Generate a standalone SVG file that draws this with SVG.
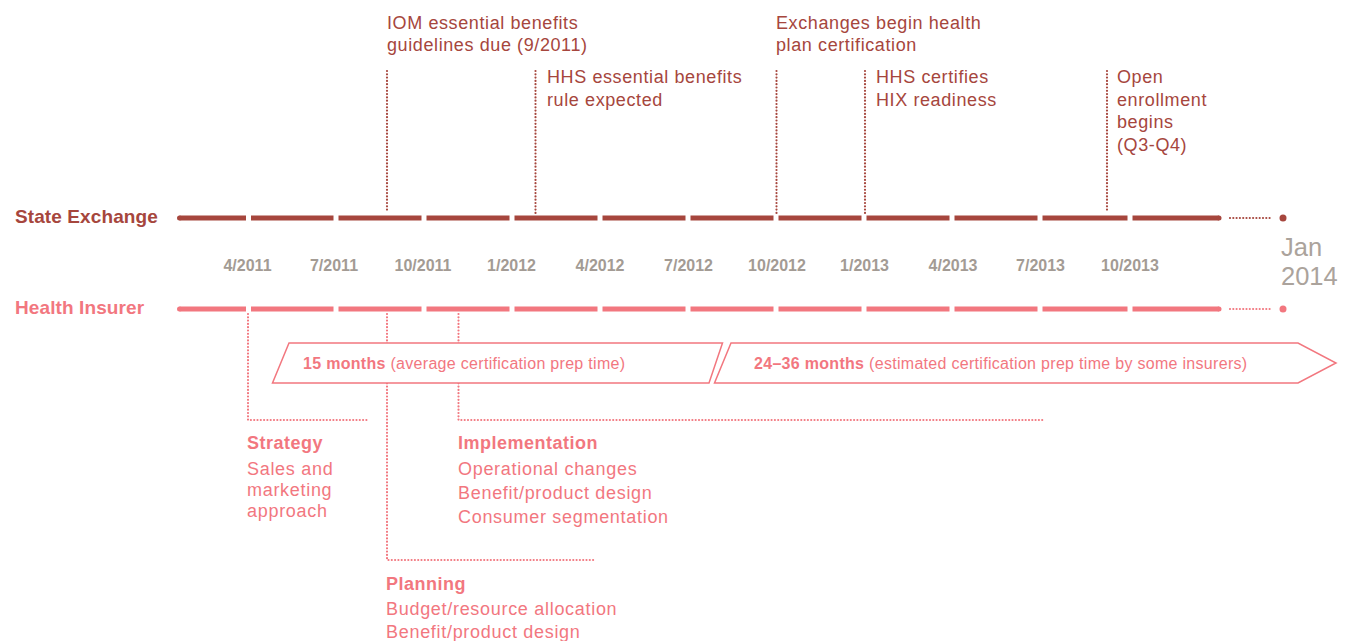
<svg xmlns="http://www.w3.org/2000/svg" width="1350" height="641" viewBox="0 0 1350 641">
<style>
text{font-family:"Liberation Sans",Arial,sans-serif}
.se{fill:#a6463d}
.hi{fill:#f2777f}
.lbl{font-size:18px;letter-spacing:0.6px}
.head{font-size:19px;font-weight:bold;letter-spacing:0.1px}
.date{font-size:16px;font-weight:bold;fill:#a39b94;text-anchor:middle}
.jan{font-size:25.5px;fill:#aba39c}
.bar-se{stroke:#a6463d;stroke-width:5;fill:none}
.bar-hi{stroke:#f2777f;stroke-width:5;fill:none}
.dot-se{stroke:#a6463d;stroke-width:2.2;stroke-dasharray:0 3.3;stroke-linecap:round;fill:none}
.dot-hi{stroke:#f2777f;stroke-width:2.2;stroke-dasharray:0 3.3;stroke-linecap:round;fill:none}
.box{fill:#fff;stroke:#f2777f;stroke-width:1.5}
.bt{font-size:16px;fill:#f2777f;letter-spacing:0.3px}
.sub{font-size:18px;fill:#f2777f;letter-spacing:0.7px}
.subh{font-size:18px;font-weight:bold;fill:#f2777f;letter-spacing:0.5px}
</style>

<g id="connectors">
  <line class="dot-se" x1="387" y1="71" x2="387" y2="210"/>
  <line class="dot-se" x1="535.5" y1="71" x2="535.5" y2="215"/>
  <line class="dot-se" x1="776.5" y1="71" x2="776.5" y2="215"/>
  <line class="dot-se" x1="865" y1="71" x2="865" y2="215"/>
  <line class="dot-se" x1="1107" y1="71" x2="1107" y2="210"/>
  <polyline class="dot-hi" points="248,314 248,420 368,420"/>
  <polyline class="dot-hi" points="387,314 387,560 595,560"/>
  <polyline class="dot-hi" points="458.5,314 458.5,420 1043,420"/>
</g>

<g id="state-exchange">
  <text class="head se" x="15" y="223">State Exchange</text>
  <path class="bar-se" d="M179.5,218H246 M251,218H333.5 M338.5,218H421.5 M426.5,218H509.5 M514.5,218H597.5 M602.5,218H685.5 M690.5,218H773.5 M778.5,218H861.5 M866.5,218H949.5 M954.5,218H1037.5 M1042.5,218H1127.5 M1132.5,218H1219"/>
  <circle cx="179.5" cy="218" r="2.5" fill="#a6463d"/>
  <circle cx="1219" cy="218" r="2.5" fill="#a6463d"/>
  <line class="dot-se" x1="1230" y1="218" x2="1271" y2="218"/>
  <circle cx="1283" cy="218" r="3.5" fill="#a6463d"/>
</g>

<g id="health-insurer">
  <text class="head hi" x="15" y="314">Health Insurer</text>
  <path class="bar-hi" d="M179.5,309H246 M251,309H333.5 M338.5,309H421.5 M426.5,309H509.5 M514.5,309H597.5 M602.5,309H685.5 M690.5,309H773.5 M778.5,309H861.5 M866.5,309H949.5 M954.5,309H1037.5 M1042.5,309H1127.5 M1132.5,309H1219"/>
  <circle cx="179.5" cy="309" r="2.5" fill="#f2777f"/>
  <circle cx="1219" cy="309" r="2.5" fill="#f2777f"/>
  <line class="dot-hi" x1="1230" y1="309" x2="1271" y2="309"/>
  <circle cx="1283" cy="309" r="3.5" fill="#f2777f"/>
</g>

<g id="dates">
  <text class="date" x="247.5" y="271">4/2011</text>
  <text class="date" x="334" y="271">7/2011</text>
  <text class="date" x="423" y="271">10/2011</text>
  <text class="date" x="511.5" y="271">1/2012</text>
  <text class="date" x="600" y="271">4/2012</text>
  <text class="date" x="688.5" y="271">7/2012</text>
  <text class="date" x="777" y="271">10/2012</text>
  <text class="date" x="864.5" y="271">1/2013</text>
  <text class="date" x="953" y="271">4/2013</text>
  <text class="date" x="1040.5" y="271">7/2013</text>
  <text class="date" x="1130" y="271">10/2013</text>
  <text class="jan" x="1281" y="256">Jan</text>
  <text class="jan" x="1281" y="285">2014</text>
</g>

<g id="m-iom">
  <text class="lbl se" x="387" y="29">IOM essential benefits</text>
  <text class="lbl se" x="387" y="51">guidelines due (9/2011)</text>
</g>
<g id="m-hhs-rule">
  <text class="lbl se" x="547" y="83">HHS essential benefits</text>
  <text class="lbl se" x="547" y="106">rule expected</text>
</g>
<g id="m-exchanges">
  <text class="lbl se" x="776" y="29">Exchanges begin health</text>
  <text class="lbl se" x="776" y="51">plan certification</text>
</g>
<g id="m-hhs-cert">
  <text class="lbl se" x="876" y="83">HHS certifies</text>
  <text class="lbl se" x="876" y="106">HIX readiness</text>
</g>
<g id="m-open">
  <text class="lbl se" x="1117" y="83">Open</text>
  <text class="lbl se" x="1117" y="106">enrollment</text>
  <text class="lbl se" x="1117" y="128">begins</text>
  <text class="lbl se" x="1117" y="151">(Q3-Q4)</text>
</g>

<g id="span-15">
  <polygon class="box" points="289,343 722.5,343 709,383 272.5,383"/>
  <text class="bt" x="303" y="369"><tspan font-weight="bold">15 months</tspan> (average certification prep time)</text>
</g>
<g id="span-24-36">
  <polygon class="box" points="731,343 1298,343 1336,363 1298,383 714.5,383"/>
  <text class="bt" x="754" y="369"><tspan font-weight="bold">24–36 months</tspan> (estimated certification prep time by some insurers)</text>
</g>

<g id="strategy">
  <text class="subh" x="247" y="449">Strategy</text>
  <text class="sub" x="247" y="475">Sales and</text>
  <text class="sub" x="247" y="496">marketing</text>
  <text class="sub" x="247" y="517">approach</text>
</g>
<g id="implementation">
  <text class="subh" x="458" y="449">Implementation</text>
  <text class="sub" x="458" y="475">Operational changes</text>
  <text class="sub" x="458" y="499">Benefit/product design</text>
  <text class="sub" x="458" y="523">Consumer segmentation</text>
</g>
<g id="planning">
  <text class="subh" x="386" y="590">Planning</text>
  <text class="sub" x="386" y="615">Budget/resource allocation</text>
  <text class="sub" x="386" y="638">Benefit/product design</text>
</g>
</svg>
